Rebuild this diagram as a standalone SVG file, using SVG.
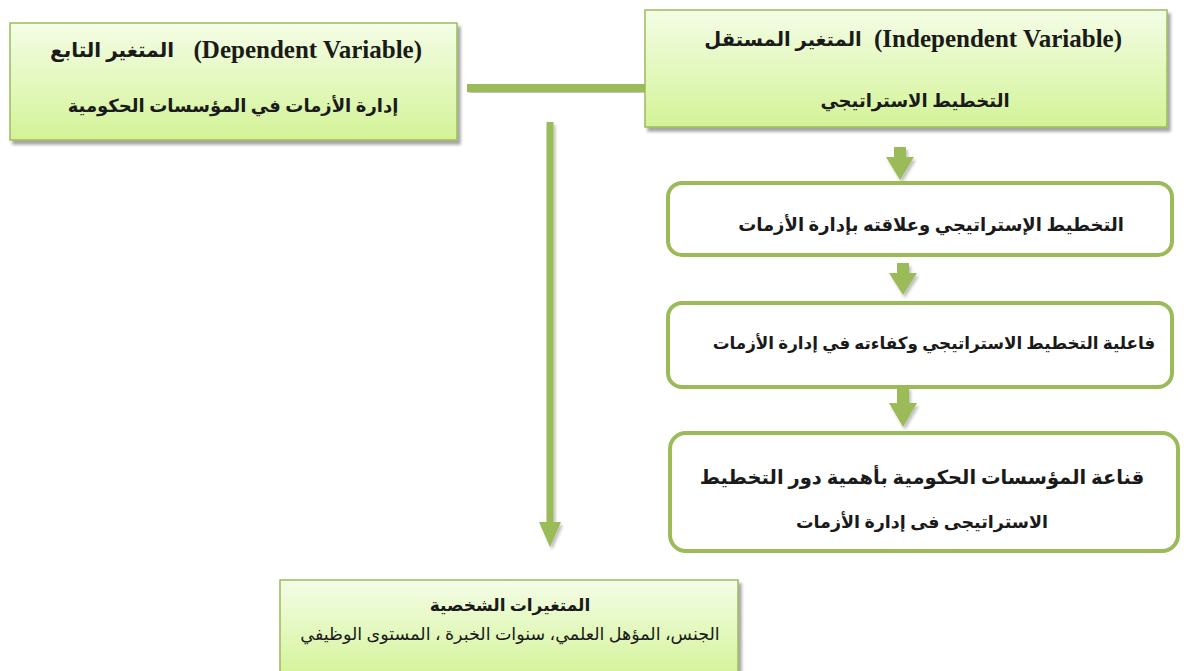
<svg xmlns="http://www.w3.org/2000/svg" width="1184" height="671" viewBox="0 0 1184 671">
<defs>
<linearGradient id="gf" x1="0" y1="0" x2="0" y2="1">
<stop offset="0" stop-color="#f4fde6"/>
<stop offset="1" stop-color="#d3f397"/>
</linearGradient>
<filter id="sh" x="-5%" y="-5%" width="112%" height="120%">
<feGaussianBlur in="SourceAlpha" stdDeviation="1.5"/>
<feOffset dx="3" dy="4" result="b"/>
<feFlood flood-color="#000" flood-opacity="0.35"/>
<feComposite in2="b" operator="in"/>
<feMerge><feMergeNode/><feMergeNode in="SourceGraphic"/></feMerge>
</filter>
<filter id="sh2" x="-50%" y="-5%" width="250%" height="115%">
<feGaussianBlur in="SourceAlpha" stdDeviation="1.5"/>
<feOffset dx="2" dy="3" result="b"/>
<feFlood flood-color="#000" flood-opacity="0.25"/>
<feComposite in2="b" operator="in"/>
<feMerge><feMergeNode/><feMergeNode in="SourceGraphic"/></feMerge>
</filter>
</defs>
<style>
.gbox{fill:url(#gf);stroke:#9bbb59;stroke-width:1.5;filter:url(#sh)}
.rbox{fill:#ffffff;stroke:#9bbb59;stroke-width:4}
.arr{fill:#9bbb59}
.t{font-family:"Liberation Serif","DejaVu Sans",serif;fill:#1a1a1a;text-anchor:middle}
.lat{font-family:"Liberation Serif",serif;fill:#1a1a1a;font-weight:bold;text-anchor:end}
.b{font-weight:bold}
</style>

<g id="connectors">
<rect x="467" y="84" width="178" height="8" class="arr" filter="url(#sh2)"/>
<path class="arr" filter="url(#sh2)" d="M546.5,122 H553.5 V522 H561 L550,547 L539,522 H546.5 Z"/>
<path class="arr" filter="url(#sh2)" d="M894,147 H906 V157 H914 L900,180 L886,157 H894 Z"/>
<path class="arr" filter="url(#sh2)" d="M897,263 H909 V273 H917 L903,295 L889,273 H897 Z"/>
<path class="arr" filter="url(#sh2)" d="M897,387 H909 V403 H917 L903,427 L889,403 H897 Z"/>
</g>

<g id="node-dependent">
<rect class="gbox" x="10" y="23" width="447" height="117"/>
<text class="t b" x="112" y="57" font-size="20" direction="rtl">المتغير التابع</text>
<text class="lat" x="422" y="58" font-size="25">(Dependent Variable)</text>
<text class="t b" x="233" y="112" font-size="18" direction="rtl">إدارة الأزمات في المؤسسات الحكومية</text>
</g>

<g id="node-independent">
<rect class="gbox" x="645" y="10" width="522" height="117"/>
<text class="t b" x="783" y="46" font-size="19.5" direction="rtl">المتغير المستقل</text>
<text class="lat" x="1122" y="47" font-size="25">(Independent Variable)</text>
<text class="t b" x="915" y="107" font-size="18" direction="rtl">التخطيط الاستراتيجي</text>
</g>

<g id="node-relation">
<rect class="rbox" x="668" y="183" width="504" height="72" rx="14"/>
<text class="t b" x="931" y="231" font-size="18" direction="rtl">التخطيط الإستراتيجي وعلاقته بإدارة الأزمات</text>
</g>

<g id="node-effectiveness">
<rect class="rbox" x="668" y="303" width="504" height="84" rx="14"/>
<text class="t b" x="934" y="349" font-size="16.8" direction="rtl">فاعلية التخطيط الاستراتيجي وكفاءته في إدارة الأزمات</text>
</g>

<g id="node-conviction">
<rect class="rbox" x="670" y="433" width="508" height="118" rx="16"/>
<text class="t b" x="922" y="484" font-size="19.5" direction="rtl">قناعة المؤسسات الحكومية بأهمية دور التخطيط</text>
<text class="t b" x="922" y="528" font-size="17.5" direction="rtl">الاستراتيجى فى إدارة الأزمات</text>
</g>

<g id="node-personal">
<rect class="gbox" x="280" y="580" width="458" height="100"/>
<text class="t b" x="510" y="611" font-size="17" direction="rtl">المتغيرات الشخصية</text>
<text class="t" x="510" y="640" font-size="17.5" direction="rtl">الجنس، المؤهل العلمي، سنوات الخبرة ، المستوى الوظيفي</text>
</g>
</svg>
